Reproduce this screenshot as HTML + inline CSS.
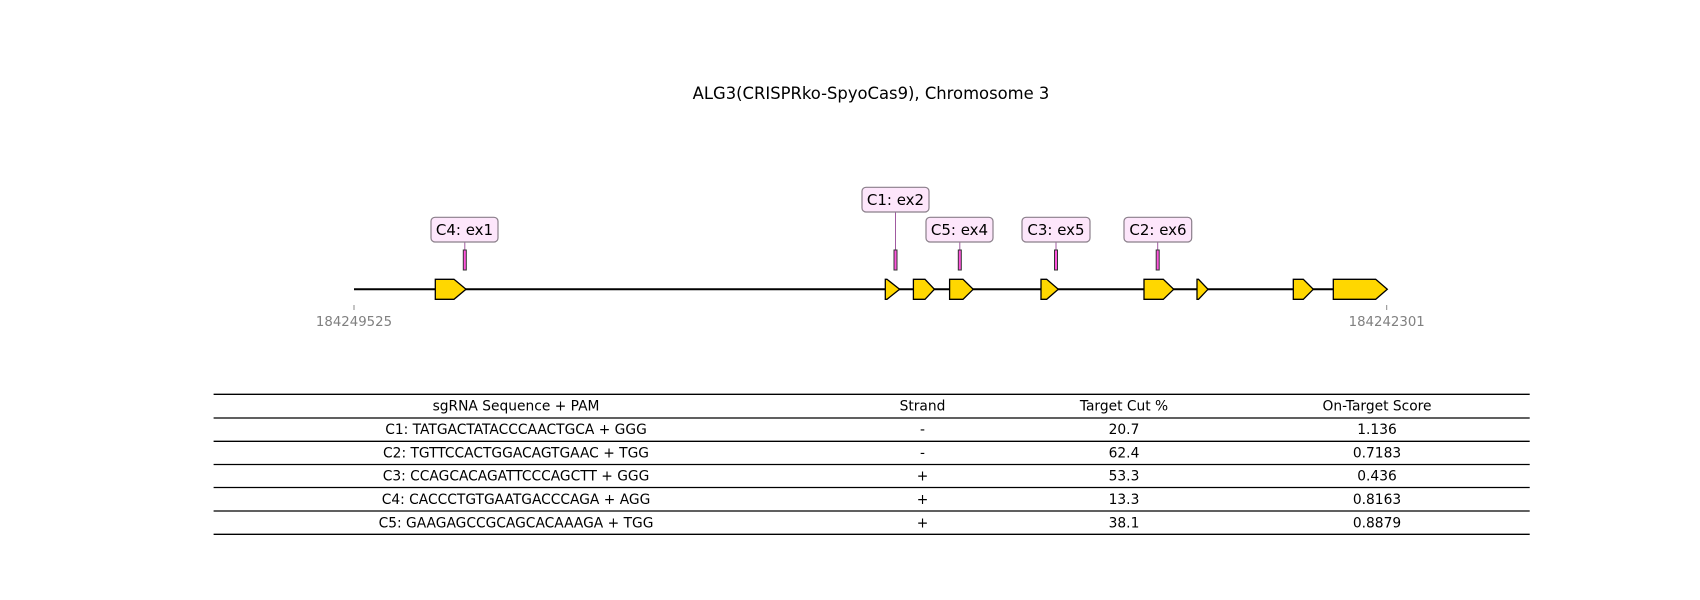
<!DOCTYPE html>
<html><head><meta charset="utf-8"><style>
html,body{margin:0;padding:0;background:#fff;}
svg{display:block;font-family:"DejaVu Sans","Liberation Sans",sans-serif;}
</style></head><body>
<svg width="1700" height="600" viewBox="0 0 1700 600" xmlns="http://www.w3.org/2000/svg">
<rect width="1700" height="600" fill="#fff"/>
<text x="871" y="99" font-size="16.4" text-anchor="middle" fill="#000">ALG3(CRISPRko-SpyoCas9), Chromosome 3</text>

<line x1="354" y1="289.3" x2="1387" y2="289.3" stroke="#000" stroke-width="2"/>
<g fill="#ffd700" stroke="#000" stroke-width="1.3" stroke-linejoin="miter">
<path d="M435.3,279.3 L454,279.3 L466,289.3 L454,299.3 L435.3,299.3 Z"/>
<path d="M885.3,279.3 L887,279.3 L899.6,289.3 L887,299.3 L885.3,299.3 Z"/>
<path d="M913.4,279.3 L925,279.3 L934.4,289.3 L925,299.3 L913.4,299.3 Z"/>
<path d="M949.6,279.3 L963,279.3 L973.2,289.3 L963,299.3 L949.6,299.3 Z"/>
<path d="M1041,279.3 L1046.7,279.3 L1058.3,289.3 L1046.7,299.3 L1041,299.3 Z"/>
<path d="M1144,279.3 L1163.3,279.3 L1173.7,289.3 L1163.3,299.3 L1144,299.3 Z"/>
<path d="M1197,279.3 L1198.5,279.3 L1208,289.3 L1198.5,299.3 L1197,299.3 Z"/>
<path d="M1293.3,279.3 L1303.3,279.3 L1313.3,289.3 L1303.3,299.3 L1293.3,299.3 Z"/>
<path d="M1333.3,279.3 L1375.7,279.3 L1387.3,289.3 L1375.7,299.3 L1333.3,299.3 Z"/>
</g>

<g stroke="#888" stroke-width="1">
<line x1="354" y1="305" x2="354" y2="310"/>
<line x1="1386.7" y1="305" x2="1386.7" y2="310"/>
</g>
<g font-size="13.3" fill="#808080" text-anchor="middle">
<text x="354" y="326">184249525</text>
<text x="1386.7" y="326">184242301</text>
</g>

<g stroke="#a05aa0" stroke-width="1">
<line x1="464.8" y1="242" x2="464.8" y2="250"/>
<line x1="895.5" y1="212" x2="895.5" y2="250"/>
<line x1="959.8" y1="242" x2="959.8" y2="250"/>
<line x1="1056" y1="242" x2="1056" y2="250"/>
<line x1="1157.7" y1="242" x2="1157.7" y2="250"/>
</g>
<g fill="#ff55dd" stroke="#333" stroke-width="1">
<rect x="463.3" y="250" width="3" height="20"/>
<rect x="894" y="250" width="3" height="20"/>
<rect x="958.3" y="250" width="3" height="20"/>
<rect x="1054.5" y="250" width="3" height="20"/>
<rect x="1156.2" y="250" width="3" height="20"/>
</g>
<g fill="#fde6fb" stroke="#8a7f8a" stroke-width="1.2">
<rect x="431" y="217.3" width="67" height="24.7" rx="4"/>
<rect x="862" y="187.3" width="67" height="24.7" rx="4"/>
<rect x="926" y="217.3" width="67" height="24.7" rx="4"/>
<rect x="1022" y="217.3" width="68" height="24.7" rx="4"/>
<rect x="1124" y="217.3" width="67.7" height="24.7" rx="4"/>
</g>
<g font-size="15" fill="#000" text-anchor="middle">
<text x="464.5" y="235">C4: ex1</text>
<text x="895.5" y="205">C1: ex2</text>
<text x="959.5" y="235">C5: ex4</text>
<text x="1056" y="235">C3: ex5</text>
<text x="1158" y="235">C2: ex6</text>
</g>

<g stroke="#000" stroke-width="1.3">
<line x1="213.6" y1="394.3" x2="1529.7" y2="394.3"/>
<line x1="213.6" y1="418" x2="1529.7" y2="418"/>
<line x1="213.6" y1="441.3" x2="1529.7" y2="441.3"/>
<line x1="213.6" y1="464.5" x2="1529.7" y2="464.5"/>
<line x1="213.6" y1="487.5" x2="1529.7" y2="487.5"/>
<line x1="213.6" y1="511" x2="1529.7" y2="511"/>
<line x1="213.6" y1="534.3" x2="1529.7" y2="534.3"/>
</g>
<g font-size="13.8" fill="#000" text-anchor="middle">
<text x="516" y="410.5">sgRNA Sequence + PAM</text>
<text x="922.5" y="410.5">Strand</text>
<text x="1124" y="410.5">Target Cut %</text>
<text x="1377" y="410.5">On-Target Score</text>

<text x="516" y="434">C1: TATGACTATACCCAACTGCA + GGG</text>
<text x="922.5" y="434">-</text>
<text x="1124" y="434">20.7</text>
<text x="1377" y="434">1.136</text>

<text x="516" y="457.5">C2: TGTTCCACTGGACAGTGAAC + TGG</text>
<text x="922.5" y="457.5">-</text>
<text x="1124" y="457.5">62.4</text>
<text x="1377" y="457.5">0.7183</text>

<text x="516" y="480.5">C3: CCAGCACAGATTCCCAGCTT + GGG</text>
<text x="922.5" y="480.5">+</text>
<text x="1124" y="480.5">53.3</text>
<text x="1377" y="480.5">0.436</text>

<text x="516" y="504">C4: CACCCTGTGAATGACCCAGA + AGG</text>
<text x="922.5" y="504">+</text>
<text x="1124" y="504">13.3</text>
<text x="1377" y="504">0.8163</text>

<text x="516" y="527.5">C5: GAAGAGCCGCAGCACAAAGA + TGG</text>
<text x="922.5" y="527.5">+</text>
<text x="1124" y="527.5">38.1</text>
<text x="1377" y="527.5">0.8879</text>
</g>
</svg>
</body></html>
